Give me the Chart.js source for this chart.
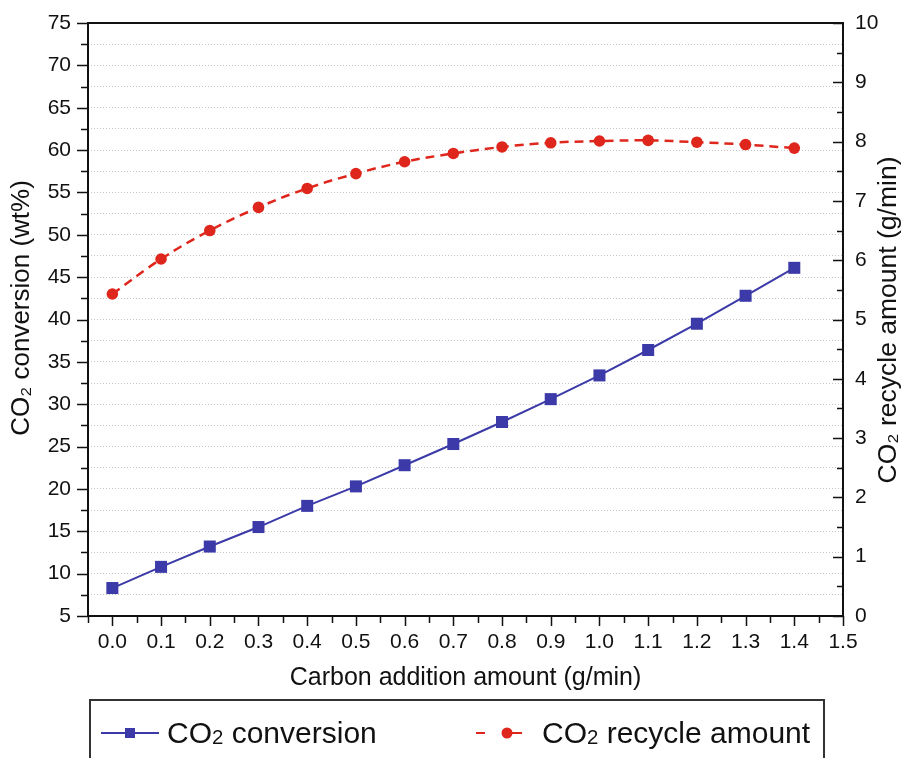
<!DOCTYPE html>
<html lang="en">
<head>
    <meta charset="UTF-8">
    <title>CO2 conversion vs carbon addition</title>
    <style>
        body {
            margin: 0;
            background: #fff;
            font-family: "Liberation Sans", Arial, sans-serif;
        }
        .wrap {
            position: relative;
            width: 902px;
            height: 758px;
            overflow: hidden;
        }
        .legend-box {
            position: absolute;
            left: 89px;
            top: 699px;
            width: 732px;
            height: 90px;
            border: 2px solid #333;
        }
        .legend-item {
            position: absolute;
            top: 715px;
            height: 36px;
            line-height: 36px;
            font-size: 30px;
            color: #111;
            white-space: nowrap;
        }
        .legend-item small {
            font-size: 0.68em;
            vertical-align: -0.05em;
        }
        .legend-mark {
            position: absolute;
            top: 723px;
        }
    </style>
</head>
<body>

<div class="wrap">
    <canvas id="chart" width="902" height="758"></canvas>
    <div class="legend-box"></div>
    <svg class="legend-mark" style="left:101px" width="58" height="20">
        <line x1="0" y1="10" x2="58" y2="10" stroke="#3b3aa8" stroke-width="2"/>
        <rect x="24" y="5" width="10" height="10" fill="#3b3aa8"/>
    </svg>
    <div class="legend-item" style="left:167px">CO<small>2</small> conversion</div>
    <svg class="legend-mark" style="left:474px" width="50" height="20">
        <line x1="2" y1="10" x2="11" y2="10" stroke="#df261c" stroke-width="2"/>
        <line x1="30" y1="10" x2="48" y2="10" stroke="#df261c" stroke-width="2"/>
        <circle cx="33" cy="10" r="5.5" fill="#df261c"/>
    </svg>
    <div class="legend-item" style="left:542px">CO<small>2</small> recycle amount</div>
</div>

<script src="https://cdn.jsdelivr.net/npm/chart.js"></script>
<script>
    // carbon addition (g/min)
    const carbonAdd = [0.0, 0.1, 0.2, 0.3, 0.4, 0.5, 0.6, 0.7, 0.8, 0.9, 1.0, 1.1, 1.2, 1.3, 1.4];
    // CO2 conversion (wt%) - left axis
    const conversion = [8.3, 10.8, 13.2, 15.5, 18.0, 20.3, 22.8, 25.3, 27.9, 30.6, 33.4, 36.4, 39.5, 42.8, 46.1];
    // CO2 recycle amount (g/min) - right axis
    const recycle = [5.43, 6.02, 6.50, 6.89, 7.21, 7.46, 7.66, 7.80, 7.91, 7.98, 8.01, 8.02, 7.99, 7.95, 7.89];

    const leftTitle = 'CO\u2082 conversion (wt%)';
    const rightTitle = 'CO\u2082 recycle amount (g/min)';
    const xTitle = 'Carbon addition amount (g/min)';

    const BLUE = '#3b3aa8';
    const RED = '#df261c';
    const FONT = '"Liberation Sans", Arial, sans-serif';

    // frame, tick marks and the two y titles
    const framePlugin = {
        id: 'frame',
        afterDraw(chart) {
            const ctx = chart.ctx;
            const a = chart.chartArea;
            const xs = chart.scales.x, yl = chart.scales.y, yr = chart.scales.y2;
            ctx.save();
            ctx.strokeStyle = '#111';
            ctx.lineWidth = 1.5;
            ctx.beginPath();
            for (let v = 5; v <= 75.01; v += 2.5) {
                const y = Math.round(yl.getPixelForValue(v)) + 0.5;
                const len = Math.round(v * 10) % 50 === 0 ? 11 : 7;
                ctx.moveTo(a.left - len, y);
                ctx.lineTo(a.left, y);
            }
            for (let k = 0; k <= 31; k++) {
                const x = Math.round(xs.getPixelForValue(-0.05 + k * 0.05)) + 0.5;
                const len = k % 2 === 1 ? 10 : 7;
                ctx.moveTo(x, a.bottom);
                ctx.lineTo(x, a.bottom + len);
            }
            for (let k = 0; k <= 20; k++) {
                const y = Math.round(yr.getPixelForValue(k * 0.5)) + 0.5;
                const len = k % 2 === 0 ? 10 : 6;
                ctx.moveTo(a.right - len, y);
                ctx.lineTo(a.right, y);
            }
            ctx.stroke();

            ctx.lineWidth = 2;
            ctx.strokeRect(a.left, a.top, a.right - a.left, a.bottom - a.top);

            ctx.fillStyle = '#111';
            ctx.font = '26px ' + FONT;
            ctx.textAlign = 'center';
            ctx.textBaseline = 'middle';
            ctx.translate(22, 308);
            ctx.rotate(-Math.PI / 2);
            ctx.fillText(leftTitle, 0, 0);
            ctx.restore();

            ctx.save();
            ctx.fillStyle = '#111';
            ctx.font = '26.5px ' + FONT;
            ctx.textAlign = 'center';
            ctx.textBaseline = 'middle';
            ctx.translate(889, 320);
            ctx.rotate(-Math.PI / 2);
            ctx.fillText(rightTitle, 0, 0);
            ctx.restore();
        }
    };

    // fixed axis box sizes so the plot area lands where the figure has it
    function fixY(width) {
        return s => {
            s.width = width;
            s.paddingTop = 12;
            s.paddingBottom = 12;
        };
    }

    const ctx = document.getElementById('chart').getContext('2d');
    new Chart(ctx, {
        type: 'line',
        data: {
            datasets: [{
                label: 'CO2 conversion',
                data: carbonAdd.map((x, i) => ({x: x, y: conversion[i]})),
                yAxisID: 'y',
                borderColor: BLUE,
                backgroundColor: BLUE,
                borderWidth: 2,
                pointStyle: 'rect',
                pointRadius: 8.5,
                pointBorderWidth: 0,
                tension: 0
            }, {
                label: 'CO2 recycle amount',
                data: carbonAdd.map((x, i) => ({x: x, y: recycle[i]})),
                yAxisID: 'y2',
                borderColor: RED,
                backgroundColor: RED,
                borderWidth: 2.5,
                borderDash: [9, 6],
                pointStyle: 'circle',
                pointRadius: 5.8,
                pointBorderWidth: 0,
                tension: 0.4
            }]
        },
        options: {
            responsive: false,
            animation: false,
            layout: {padding: {top: 23, left: 0, right: 0, bottom: 62}},
            plugins: {
                legend: {display: false},
                tooltip: {enabled: false}
            },
            scales: {
                x: {
                    type: 'linear',
                    min: -0.05,
                    max: 1.5,
                    afterFit: s => { s.height = 80; },
                    grid: {drawOnChartArea: false, drawTicks: false},
                    border: {display: false},
                    ticks: {
                        stepSize: 0.05,
                        autoSkip: false,
                        maxRotation: 0,
                        padding: 14,
                        color: '#111',
                        font: {family: FONT, size: 21},
                        callback: v => {
                            const k = Math.round(v * 100);
                            return k >= 0 && k % 10 === 0 ? (k / 100).toFixed(1) : '';
                        }
                    },
                    title: {
                        display: true,
                        text: xTitle,
                        color: '#111',
                        font: {family: FONT, size: 25},
                        padding: {top: 0, bottom: 3}
                    }
                },
                y: {
                    position: 'left',
                    min: 5,
                    max: 75,
                    afterFit: fixY(88),
                    grid: {color: '#c4c4c4', lineWidth: 1, drawTicks: false},
                    border: {display: false, dash: [1, 2]},
                    ticks: {
                        stepSize: 2.5,
                        autoSkip: false,
                        padding: 17,
                        color: '#111',
                        font: {family: FONT, size: 21},
                        callback: v => Math.round(v * 10) % 50 === 0 ? Math.round(v) : ''
                    }
                },
                y2: {
                    position: 'right',
                    min: 0,
                    max: 10,
                    afterFit: fixY(59),
                    grid: {drawOnChartArea: false, drawTicks: false},
                    border: {display: false},
                    ticks: {
                        stepSize: 0.5,
                        autoSkip: false,
                        padding: 12,
                        color: '#111',
                        font: {family: FONT, size: 21},
                        callback: v => Math.round(v * 10) % 10 === 0 ? Math.round(v) : ''
                    }
                }
            }
        },
        plugins: [framePlugin]
    });
</script>

</body>
</html>
